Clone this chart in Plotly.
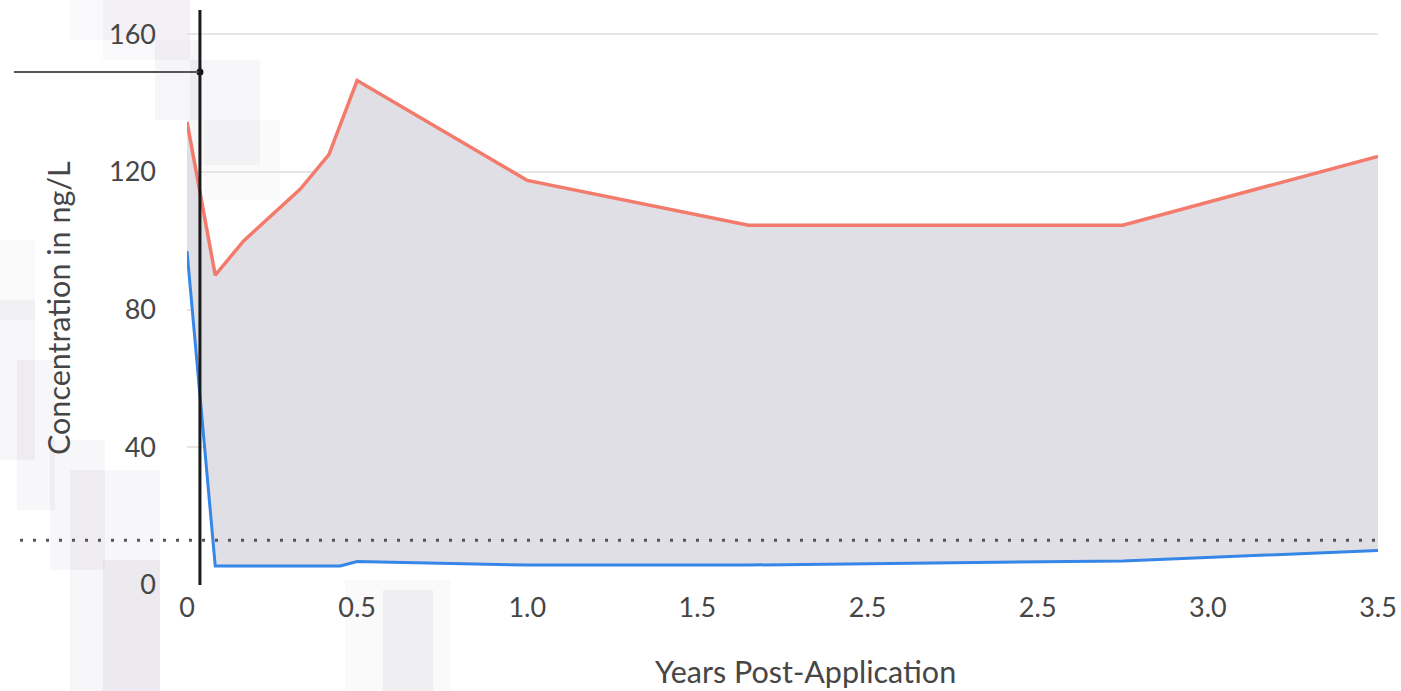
import plotly.graph_objects as go

# Concentration series (ng/L) against years after application
upper_years = [0, 0.083, 0.167, 0.333, 0.417, 0.5, 1.0, 1.65, 2.75, 3.5]
upper_conc = [134.5, 90, 100, 115, 125, 146.5, 117.5, 104.5, 104.5, 124.5]

lower_years = [0, 0.083, 0.45, 0.5, 1.0, 1.65, 2.75, 3.5]
lower_conc = [97, 5.5, 5.5, 6.8, 5.8, 5.8, 7, 10]

# reference level and hover cursor position
threshold = 13
cursor_x = 0.038
cursor_y = 149

x_tickvals = [0, 0.5, 1.0, 1.5, 2.0, 2.5, 3.0, 3.5]
x_ticktext = ["0", "0.5", "1.0", "1.5", "2.5", "2.5", "3.0", "3.5"]
y_tickvals = [0, 40, 80, 120, 160]

W, H = 1401, 691
ML, MR, MT, MB = 187, 23, 10, 106
FONT = "Lato, 'Open Sans', sans-serif"
TEXT = "#464646"


def px_x(p):
    return (p - ML) / (W - ML - MR)


def px_y(p):
    return (H - MB - p) / (H - MT - MB)


fig = go.Figure()

fig.add_trace(go.Scatter(
    x=lower_years, y=lower_conc, mode="lines",
    line=dict(color="#3586e6", width=3), hoverinfo="skip",
))
fig.add_trace(go.Scatter(
    x=upper_years, y=upper_conc, mode="lines",
    line=dict(color="#f37b6c", width=3.5),
    fill="tonexty", fillcolor="#e1dfe6", hoverinfo="skip",
))
fig.add_trace(go.Scatter(
    x=[cursor_x], y=[cursor_y], mode="markers",
    marker=dict(color="#111111", size=7), hoverinfo="skip",
))

# soft blocky backdrop on the left (translucent cells that stack)
blocks = [
    (70, 0, 190, 40, 0.04),
    (103, 0, 190, 60, 0.04),
    (155, 40, 200, 120, 0.06),
    (190, 60, 260, 165, 0.05),
    (205, 120, 280, 200, 0.03),
    (0, 240, 35, 320, 0.03),
    (0, 300, 35, 460, 0.06),
    (17, 360, 55, 510, 0.05),
    (50, 440, 105, 570, 0.05),
    (70, 470, 160, 691, 0.05),
    (103, 560, 160, 691, 0.07),
    (345, 580, 450, 691, 0.03),
    (383, 590, 433, 691, 0.07),
]
shapes = []
for x0, y0, x1, y1, a in blocks:
    shapes.append(dict(
        type="rect", xref="paper", yref="paper", layer="below",
        x0=px_x(x0), x1=px_x(x1), y0=px_y(y1), y1=px_y(y0),
        fillcolor=f"rgba(95,85,120,{a})", line=dict(width=0),
    ))

# dotted reference level
shapes.append(dict(
    type="line", xref="paper", yref="y", x0=px_x(20), x1=1,
    y0=threshold, y1=threshold,
    line=dict(color="#555555", width=3, dash="3px,10px"),
))
# cursor crosshair
shapes.append(dict(
    type="line", xref="paper", yref="y", x0=px_x(14), x1=cursor_x / 3.5,
    y0=cursor_y, y1=cursor_y, line=dict(color="#555555", width=2),
))
shapes.append(dict(
    type="line", xref="x", yref="paper", x0=cursor_x, x1=cursor_x,
    y0=0, y1=1, line=dict(color="#1a1a1a", width=3),
))

fig.update_layout(
    width=W, height=H,
    margin=dict(l=ML, r=MR, t=MT, b=MB, autoexpand=False),
    paper_bgcolor="white", plot_bgcolor="rgba(0,0,0,0)",
    showlegend=False,
    font=dict(family=FONT, size=27, color=TEXT),
    shapes=shapes,
    xaxis=dict(
        range=[0, 3.5], tickvals=x_tickvals, ticktext=x_ticktext,
        showgrid=False, zeroline=False, showline=False, ticks="",
        automargin=False, ticklabelstandoff=4,
        tickfont=dict(size=27, color=TEXT),
    ),
    yaxis=dict(
        range=[0, 167], tickvals=y_tickvals,
        showgrid=True, gridcolor="#e6e6e6", gridwidth=2,
        zeroline=False, showline=False, ticks="",
        automargin=False, ticklabelstandoff=30,
        tickfont=dict(size=27, color=TEXT),
    ),
    annotations=[
        dict(text="Years Post-Application", xref="paper", yref="paper",
             x=px_x(805), y=px_y(671), xanchor="center", yanchor="middle",
             showarrow=False, font=dict(size=30.5, color=TEXT)),
        dict(text="Concentration in ng/L", xref="paper", yref="paper",
             x=px_x(58), y=px_y(308), xanchor="center", yanchor="middle",
             showarrow=False, textangle=-90,
             font=dict(size=30.5, color=TEXT)),
    ],
)

fig.write_html("out.html")
